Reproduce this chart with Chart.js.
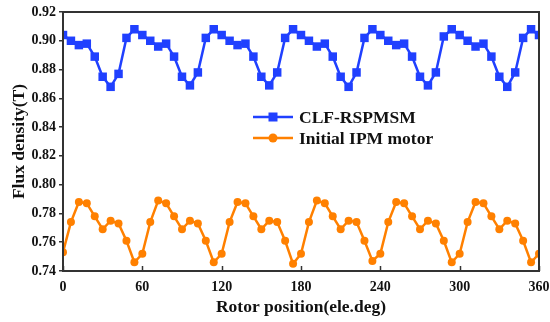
<!DOCTYPE html>
<html>
<head>
<meta charset="utf-8">
<script src="https://cdn.jsdelivr.net/npm/chart.js@4/dist/chart.umd.min.js"></script>
<style>
  html, body { margin: 0; padding: 0; background: #fff; }
  #fluxChart { display: block; }
</style>
</head>
<body>
<canvas id="fluxChart" width="550" height="322"></canvas>
<script>
const ctx = document.getElementById('fluxChart');

// rotor position, electrical degrees (sampled every 6 deg)
const rotorPos = [0, 6, 12, 18, 24, 30, 36, 42, 48, 54,
    60, 66, 72, 78, 84, 90, 96, 102, 108, 114,
    120, 126, 132, 138, 144, 150, 156, 162, 168, 174,
    180, 186, 192, 198, 204, 210, 216, 222, 228, 234,
    240, 246, 252, 258, 264, 270, 276, 282, 288, 294,
    300, 306, 312, 318, 324, 330, 336, 342, 348, 354, 360];

// flux density (T)
const fluxCLF = [0.904, 0.900, 0.897, 0.898, 0.889, 0.875, 0.868, 0.877, 0.902, 0.908,
    0.904, 0.900, 0.896, 0.898, 0.889, 0.875, 0.869, 0.878, 0.902, 0.908,
    0.904, 0.900, 0.897, 0.898, 0.889, 0.875, 0.869, 0.878, 0.902, 0.908,
    0.904, 0.900, 0.896, 0.898, 0.889, 0.875, 0.868, 0.878, 0.902, 0.908,
    0.904, 0.900, 0.897, 0.898, 0.889, 0.875, 0.869, 0.878, 0.903, 0.908,
    0.904, 0.900, 0.896, 0.898, 0.889, 0.875, 0.868, 0.878, 0.902, 0.908, 0.904];

const fluxIPM = [0.753, 0.774, 0.788, 0.787, 0.778, 0.769, 0.775, 0.773, 0.761, 0.746,
    0.752, 0.774, 0.789, 0.787, 0.778, 0.769, 0.775, 0.773, 0.761, 0.746,
    0.752, 0.774, 0.788, 0.787, 0.778, 0.769, 0.775, 0.774, 0.761, 0.745,
    0.752, 0.774, 0.789, 0.787, 0.778, 0.769, 0.775, 0.774, 0.761, 0.747,
    0.752, 0.774, 0.788, 0.787, 0.778, 0.769, 0.775, 0.773, 0.761, 0.746,
    0.752, 0.774, 0.788, 0.787, 0.778, 0.769, 0.775, 0.773, 0.761, 0.746, 0.752];

const seriesNames = ['CLF-RSPMSM', 'Initial IPM motor'];
const xTicks = [0, 60, 120, 180, 240, 300, 360];
const yTicks = [0.74, 0.76, 0.78, 0.80, 0.82, 0.84, 0.86, 0.88, 0.90, 0.92];

const serif = "'Liberation Serif', 'Times New Roman', serif";
const axisColor = '#333333';

function toPoints(ys) {
    return rotorPos.map((x, i) => ({ x: x, y: ys[i] }));
}

// box around the plot, inward x ticks, and the in-plot legend
const framePlugin = {
    id: 'frame',
    afterDraw(chart) {
        const c = chart.ctx;
        const a = chart.chartArea;
        const xs = chart.scales.x;
        c.save();
        c.strokeStyle = axisColor;
        c.lineWidth = 2;
        c.strokeRect(a.left, a.top, a.right - a.left, a.bottom - a.top);
        c.lineWidth = 1.5;
        xTicks.forEach(v => {
            const px = Math.round(xs.getPixelForValue(v)) + 0.5;
            c.beginPath();
            c.moveTo(px, a.bottom);
            c.lineTo(px, a.bottom - 5);
            c.stroke();
        });

        // legend
        const rows = [117, 138];
        chart.data.datasets.forEach((ds, i) => {
            const y = rows[i];
            c.strokeStyle = ds.borderColor;
            c.lineWidth = 2.5;
            c.beginPath();
            c.moveTo(253, y);
            c.lineTo(293, y);
            c.stroke();
            c.fillStyle = ds.backgroundColor;
            if (ds.pointStyle === 'rect') {
                c.fillRect(273 - 4.5, y - 4.5, 9, 9);
            } else {
                c.beginPath();
                c.arc(273, y, 4.5, 0, Math.PI * 2);
                c.fill();
            }
            c.fillStyle = '#111';
            c.font = 'bold 17.5px ' + serif;
            c.textBaseline = 'middle';
            c.textAlign = 'left';
            c.fillText(ds.label, 299, y + 1);
        });
        c.restore();
    }
};

new Chart(ctx, {
    type: 'line',
    data: {
        datasets: [
            {
                label: seriesNames[0],
                data: toPoints(fluxCLF),
                borderColor: '#2040ff',
                backgroundColor: '#2040ff',
                borderWidth: 2.5,
                pointStyle: 'rect',
                pointRadius: 6,
                pointBorderWidth: 0,
                tension: 0
            },
            {
                label: seriesNames[1],
                data: toPoints(fluxIPM),
                borderColor: '#ff8000',
                backgroundColor: '#ff8000',
                borderWidth: 2.5,
                pointStyle: 'circle',
                pointRadius: 4,
                pointBorderWidth: 0,
                tension: 0
            }
        ]
    },
    options: {
        responsive: false,
        animation: false,
        events: [],
        layout: { padding: { top: 12, right: 11, left: 0, bottom: 0 } },
        plugins: {
            legend: { display: false },
            tooltip: { enabled: false }
        },
        scales: {
            x: {
                type: 'linear',
                min: 0,
                max: 360,
                afterBuildTicks: s => { s.ticks = xTicks.map(v => ({ value: v })); },
                afterFit: s => { s.height = 51; },
                grid: { display: false },
                border: { display: false },
                ticks: {
                    color: '#111',
                    padding: 0,
                    maxRotation: 0,
                    font: { family: serif, size: 14, weight: 'bold' }
                },
                title: {
                    display: true,
                    text: 'Rotor position(ele.deg)',
                    color: '#111',
                    padding: { top: 0, bottom: 4 },
                    font: { family: serif, size: 17.5, weight: 'bold' }
                }
            },
            y: {
                min: 0.74,
                max: 0.92,
                afterBuildTicks: s => { s.ticks = yTicks.map(v => ({ value: v })); },
                afterFit: s => { s.width = 63; },
                grid: {
                    drawOnChartArea: false,
                    drawTicks: true,
                    tickLength: 4,
                    color: axisColor,
                    lineWidth: 1.5
                },
                border: { display: false },
                ticks: {
                    color: '#111',
                    padding: 3,
                    font: { family: serif, size: 14, weight: 'bold' },
                    callback: v => v.toFixed(2)
                },
                title: {
                    display: true,
                    text: 'Flux density(T)',
                    color: '#111',
                    padding: { top: 9, bottom: 0 },
                    font: { family: serif, size: 17.5, weight: 'bold' }
                }
            }
        }
    },
    plugins: [framePlugin]
});
</script>
</body>
</html>
